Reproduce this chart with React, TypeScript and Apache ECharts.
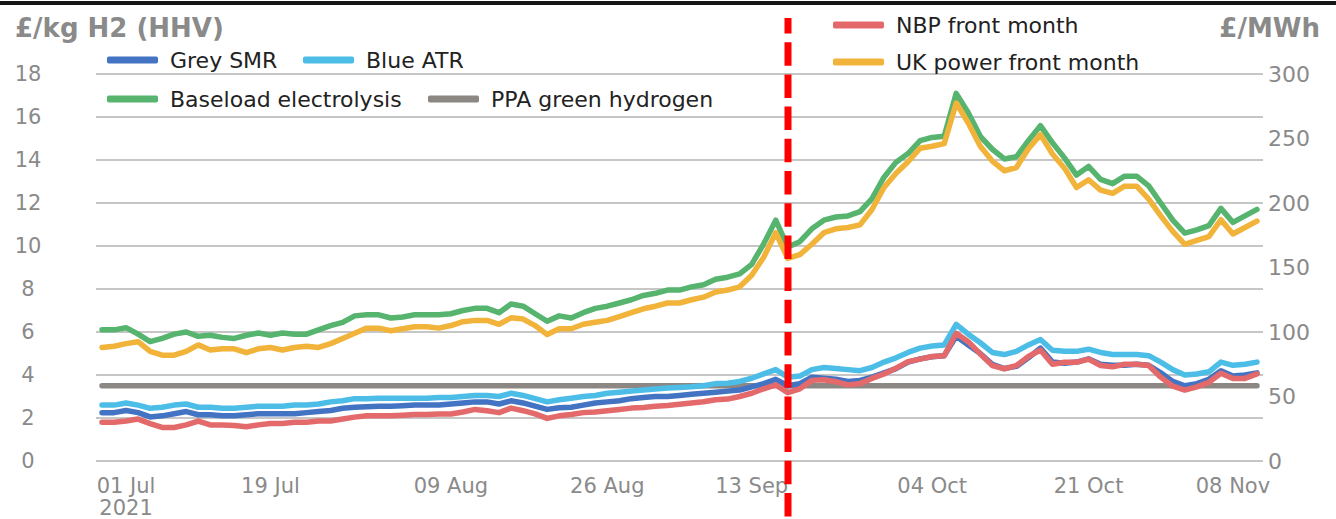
import { useEffect, useRef } from "react";
import * as echarts from "echarts";

// Trading days, 29 Jun 2021 – 10 Nov 2021
const dates = [
  "29 Jun", "30 Jun",
  "01 Jul", "02 Jul", "05 Jul", "06 Jul", "07 Jul", "08 Jul", "09 Jul", "12 Jul", "13 Jul", "14 Jul", "15 Jul", "16 Jul",
  "19 Jul", "20 Jul", "21 Jul", "22 Jul", "23 Jul", "26 Jul", "27 Jul", "28 Jul", "29 Jul", "30 Jul",
  "02 Aug", "03 Aug", "04 Aug", "05 Aug", "06 Aug", "09 Aug", "10 Aug", "11 Aug", "12 Aug", "13 Aug",
  "16 Aug", "17 Aug", "18 Aug", "19 Aug", "20 Aug", "23 Aug", "24 Aug", "25 Aug", "26 Aug", "27 Aug", "30 Aug", "31 Aug",
  "01 Sep", "02 Sep", "03 Sep", "06 Sep", "07 Sep", "08 Sep", "09 Sep", "10 Sep", "13 Sep", "14 Sep", "15 Sep", "16 Sep", "17 Sep",
  "20 Sep", "21 Sep", "22 Sep", "23 Sep", "24 Sep", "27 Sep", "28 Sep", "29 Sep", "30 Sep",
  "01 Oct", "04 Oct", "05 Oct", "06 Oct", "07 Oct", "08 Oct", "11 Oct", "12 Oct", "13 Oct", "14 Oct", "15 Oct",
  "18 Oct", "19 Oct", "20 Oct", "21 Oct", "22 Oct", "25 Oct", "26 Oct", "27 Oct", "28 Oct", "29 Oct",
  "01 Nov", "02 Nov", "03 Nov", "04 Nov", "05 Nov", "08 Nov", "09 Nov", "10 Nov",
];

const tickLabels = ["01 Jul", "19 Jul", "09 Aug", "26 Aug", "13 Sep", "04 Oct", "21 Oct", "08 Nov"];
const leftTicks = { min: 0, max: 18, interval: 2 };
const rightTicks = { min: 0, max: 300, interval: 50 };

// £/kg H2 (HHV)
const greySmr = [
  2.25, 2.25, 2.35, 2.25, 2.05, 2.1, 2.2, 2.3, 2.15, 2.15,
  2.1, 2.1, 2.15, 2.2, 2.2, 2.2, 2.2, 2.25, 2.3, 2.35,
  2.45, 2.5, 2.52, 2.55, 2.55, 2.57, 2.6, 2.6, 2.6, 2.65,
  2.7, 2.75, 2.75, 2.65, 2.8, 2.7, 2.55, 2.4, 2.48, 2.5,
  2.6, 2.7, 2.75, 2.8, 2.9, 2.95, 3.0, 3.0, 3.05, 3.1,
  3.15, 3.2, 3.25, 3.3, 3.45, 3.6, 3.8, 3.5, 3.6, 3.9,
  3.85, 3.8, 3.7, 3.75, 3.9, 4.1, 4.3, 4.6, 4.75, 4.85,
  4.9, 5.8, 5.4, 5.0, 4.5, 4.3, 4.4, 4.8, 5.25, 4.6,
  4.55, 4.6, 4.75, 4.5, 4.45, 4.45, 4.5, 4.45, 4.1, 3.7,
  3.5, 3.6, 3.8, 4.2, 3.95, 4.0, 4.1,
];

const blueAtr = [
  2.6, 2.6, 2.7, 2.6, 2.45, 2.5, 2.6, 2.65, 2.5, 2.5,
  2.45, 2.45, 2.5, 2.55, 2.55, 2.55, 2.6, 2.6, 2.65, 2.75,
  2.8, 2.9, 2.9, 2.92, 2.92, 2.92, 2.92, 2.92, 2.95, 2.95,
  3.0, 3.05, 3.05, 3.0, 3.15, 3.05, 2.9, 2.75, 2.85, 2.92,
  3.0, 3.05, 3.15, 3.2, 3.25, 3.3, 3.35, 3.4, 3.42, 3.45,
  3.5, 3.6, 3.62, 3.7, 3.85, 4.05, 4.25, 3.9, 3.95, 4.25,
  4.35, 4.3, 4.25, 4.2, 4.35, 4.6, 4.8, 5.05, 5.25, 5.35,
  5.4, 6.35, 5.9, 5.5, 5.05, 4.95, 5.1, 5.4, 5.65, 5.15,
  5.1, 5.1, 5.2, 5.05, 4.95, 4.95, 4.95, 4.9, 4.6, 4.25,
  4.0, 4.05, 4.15, 4.6, 4.45, 4.5, 4.6,
];

const baseloadElectrolysis = [
  6.1, 6.1, 6.2, 5.9, 5.55, 5.7, 5.9, 6.0, 5.8, 5.85,
  5.75, 5.7, 5.85, 5.95, 5.85, 5.95, 5.9, 5.9, 6.1, 6.3,
  6.45, 6.75, 6.8, 6.8, 6.65, 6.7, 6.8, 6.8, 6.8, 6.85,
  7.0, 7.1, 7.1, 6.9, 7.3, 7.2, 6.85, 6.5, 6.75, 6.65,
  6.9, 7.1, 7.2, 7.35, 7.5, 7.7, 7.8, 7.95, 7.95, 8.1,
  8.2, 8.45, 8.55, 8.7, 9.15, 10.1, 11.2, 9.95, 10.2, 10.8,
  11.2, 11.35, 11.4, 11.6, 12.2, 13.2, 13.9, 14.3, 14.9, 15.05,
  15.1, 17.1, 16.2, 15.1, 14.5, 14.05, 14.15, 14.9, 15.6, 14.8,
  14.1, 13.3, 13.7, 13.1, 12.9, 13.25, 13.25, 12.8, 12.0, 11.2,
  10.6, 10.75, 10.95, 11.75, 11.1, 11.4, 11.7,
];

// flat PPA price, £/kg
const PPA_GREEN_H2 = 3.5;

// £/MWh (right axis)
const nbpFrontMonth = [
  30, 30, 31, 32.5, 29, 26, 26, 28, 31, 28,
  28, 27.5, 26.5, 28, 29, 29, 30, 30, 31, 31,
  32.5, 34, 35, 35, 35, 35.5, 36, 36, 36.5, 36.5,
  38, 40, 39, 37.5, 41, 39, 36.5, 33, 35, 36,
  37.5, 38, 39, 40, 41, 41.5, 42.5, 43, 44, 45,
  46, 47.5, 48, 50, 52.5, 56, 59, 53, 56, 62.5,
  63, 61.5, 59, 60, 64, 67.5, 72, 77, 79, 81,
  81.5, 99, 92.5, 83, 74, 71.5, 74, 81, 86, 75,
  76.5, 76.5, 79, 74, 73, 75, 75, 74, 65, 58,
  55, 57.5, 61, 68, 64, 64, 67.5,
];

const ukPowerFrontMonth = [
  88, 89, 91, 92.5, 85, 82, 82, 85, 90, 86,
  87, 87, 84, 87, 88, 86, 88, 89, 88, 91,
  95, 99, 103, 103, 101, 102.5, 104, 104, 103, 105,
  108, 109, 109, 106, 111, 110, 105, 98, 102.5, 102.5,
  106, 107.5, 109, 112, 115, 118, 120, 122.5, 122.5, 125,
  127, 131, 132.5, 135, 144, 158, 177, 157, 160, 168,
  177, 180, 181, 183, 195, 212, 223, 232, 242.5, 244,
  246, 277.5, 262, 244, 232.5, 225, 227.5, 242, 253, 238,
  227, 212, 218, 210, 207.5, 213, 213, 203, 190, 178,
  168, 171, 174, 187, 176, 181, 186,
];

const FONT = "DejaVu Sans";
const GREY_TEXT = "#8a8a8a";

export default function App() {
  const ref = useRef<HTMLDivElement>(null);

  useEffect(() => {
    const chart = echarts.init(ref.current as HTMLDivElement, undefined, { renderer: "svg" });

    const legendItem = (name: string, left: number, cy: number) => ({
      data: [name],
      left,
      top: cy - 12,
      padding: 0,
      itemWidth: 51,
      itemHeight: 7,
      icon: "roundRect",
      selectedMode: false,
      textStyle: { fontFamily: FONT, fontSize: 22, color: "#222", padding: [0, 0, 0, 7] },
    });

    const lineSeries = (name: string, data: number[], color: string, yAxisIndex: number, z: number) => ({
      name,
      type: "line",
      data,
      yAxisIndex,
      symbol: "none",
      showSymbol: false,
      z,
      itemStyle: { color },
      lineStyle: { color, width: 5.5, cap: "round", join: "round" },
    });

    chart.setOption({
      animation: false,
      backgroundColor: "#ffffff",
      textStyle: { fontFamily: FONT },
      grid: { left: 96, right: 1336 - 1263, top: 74, bottom: 52, containLabel: false },
      legend: [
        legendItem("Grey SMR", 107, 61),
        legendItem("Blue ATR", 303, 61),
        legendItem("Baseload electrolysis", 107, 100),
        legendItem("PPA green hydrogen", 428, 100),
        legendItem("NBP front month", 833, 26),
        legendItem("UK power front month", 833, 63),
      ],
      xAxis: {
        type: "category",
        data: dates,
        boundaryGap: true,
        axisLine: { show: false },
        axisTick: { show: false },
        splitLine: { show: false },
        axisLabel: {
          interval: (_i: number, v: string) => tickLabels.includes(v),
          formatter: (v: string) => (v === "01 Jul" ? "01 Jul\n2021" : v),
          color: GREY_TEXT,
          fontFamily: FONT,
          fontSize: 21,
          lineHeight: 22,
          margin: 14,
        },
      },
      yAxis: [
        {
          type: "value",
          ...leftTicks,
          axisLine: { show: false },
          axisTick: { show: false },
          splitLine: { show: true, lineStyle: { color: "#c6c6c6", width: 2 } },
          axisLabel: { color: GREY_TEXT, fontFamily: FONT, fontSize: 21, align: "center", margin: 68 },
        },
        {
          type: "value",
          ...rightTicks,
          position: "right",
          axisLine: { show: false },
          axisTick: { show: false },
          splitLine: { show: false },
          axisLabel: { color: GREY_TEXT, fontFamily: FONT, fontSize: 22, align: "left", margin: 5 },
        },
      ],
      series: [
        lineSeries("PPA green hydrogen", dates.map(() => PPA_GREEN_H2), "#8c8782", 0, 2),
        lineSeries("Grey SMR", greySmr, "#4374c4", 0, 3),
        lineSeries("Blue ATR", blueAtr, "#4cbde7", 0, 3),
        lineSeries("Baseload electrolysis", baseloadElectrolysis, "#56b46e", 0, 3),
        lineSeries("NBP front month", nbpFrontMonth, "#e3696a", 1, 4),
        lineSeries("UK power front month", ukPowerFrontMonth, "#f1b33a", 1, 4),
      ],
      graphic: [
        { type: "rect", left: 0, top: 1, shape: { width: 1336, height: 4 }, style: { fill: "#161616" }, z: 50 },
        {
          type: "text",
          left: 15,
          top: 15,
          style: { text: "£/kg H2 (HHV)", fill: GREY_TEXT, font: `bold 26px "${FONT}"` },
        },
        {
          type: "text",
          right: 16,
          top: 15,
          style: { text: "£/MWh", fill: GREY_TEXT, font: `bold 26px "${FONT}"` },
        },
        {
          type: "line",
          shape: { x1: 788, y1: 18, x2: 788, y2: 519 },
          style: { stroke: "#ff0000", lineWidth: 7, lineDash: [23.5, 8.7], lineDashOffset: 7.6 },
          z: 100,
        },
      ],
    });

    return () => chart.dispose();
  }, []);

  return <div ref={ref} style={{ position: "fixed", left: 0, top: 0, width: 1336, height: 519 }} />;
}
